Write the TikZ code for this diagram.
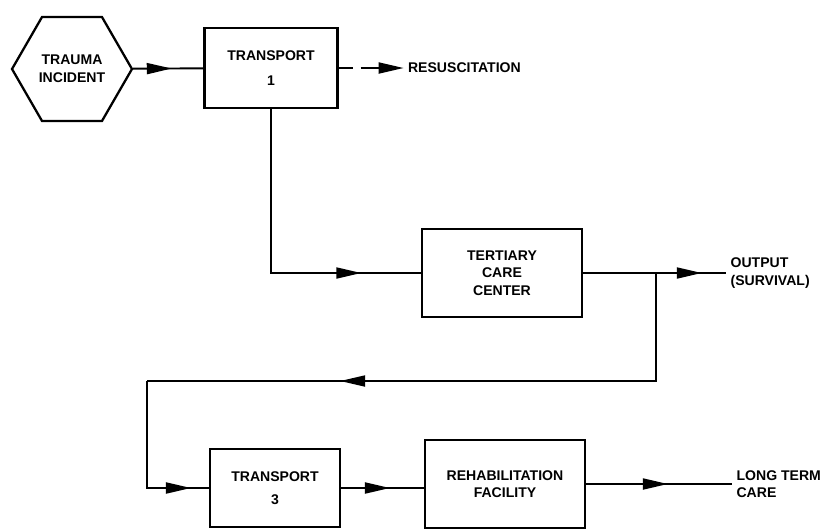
\documentclass[tikz,border=0pt]{standalone}
\usepackage{fontspec}
\setmainfont{Liberation Sans}
\usetikzlibrary{shapes.geometric,arrows.meta,positioning,decorations.markings}

\begin{document}
\begin{tikzpicture}[
    x=0.02cm, y=-0.02cm,
    line width=1.1pt,
    box/.style={rectangle, draw, line width=1.3pt, align=center, font=\fontsize{8}{10}\selectfont\bfseries},
    hexbox/.style={regular polygon, regular polygon sides=6, draw, line width=1.3pt, minimum size=2.4cm, inner sep=0pt, align=center, font=\fontsize{8}{10}\selectfont\bfseries},
    outcome/.style={align=left, font=\fontsize{8}{10}\selectfont\bfseries, inner sep=2pt},
    midtip/.style={postaction={decorate}, decoration={markings, mark=at position #1 with {\arrow{Triangle[length=0.5cm, width=0.22cm]}}}},
    endtip/.style={-{Triangle[length=0.5cm, width=0.22cm]}},
]
    \useasboundingbox (0,0) rectangle (826,529);

    % Nodes
    \node[hexbox] (trauma) at (72,69) {TRAUMA\\INCIDENT};
    \node[box, minimum width=2.66cm, minimum height=1.6cm] (tr1) at (271,68) {TRANSPORT\\[4pt]1};
    \node[box, minimum width=3.2cm, minimum height=1.76cm] (tcc) at (502,273) {TERTIARY\\CARE\\CENTER};
    \node[box, minimum width=2.6cm, minimum height=1.56cm] (tr3) at (275,488) {TRANSPORT\\[3pt]3};
    \node[box, minimum width=3.2cm, minimum height=1.76cm] (rehab) at (505,484) {REHABILITATION\\FACILITY};

    % Outcomes
    \node[outcome, right=1.3cm of tr1] (resus) {RESUSCITATION};
    \node[outcome, right=2.86cm of tcc] (output) {OUTPUT\\(SURVIVAL)};
    \node[outcome, right=2.92cm of rehab] (longterm) {LONG TERM\\CARE};

    % Corners of the return path
    \coordinate[right=1.46cm of tcc.east] (split);
    \coordinate (back) at (147,381);

    % Arrows
    \draw[midtip=0.55] (trauma) -- (tr1);
    \draw[endtip, dash pattern=on 0.28cm off 0.16cm on 3cm off 0cm] (tr1.east) -- (tr1.east -| resus.west);
    \draw[midtip=0.81] (tr1.south) |- (tcc.west);
    \draw[midtip=0.83] (tcc.east) -- (tcc.east -| output.west);
    \draw[midtip=0.687] (split) |- (back);
    \draw[midtip=0.894] (back) |- (tr3.west);
    \draw[midtip=0.59] (tr3.east) -- (tr3.east -| rehab.west);
    \draw[midtip=0.56] (rehab.east) -- (rehab.east -| longterm.west);
\end{tikzpicture}
\end{document}
